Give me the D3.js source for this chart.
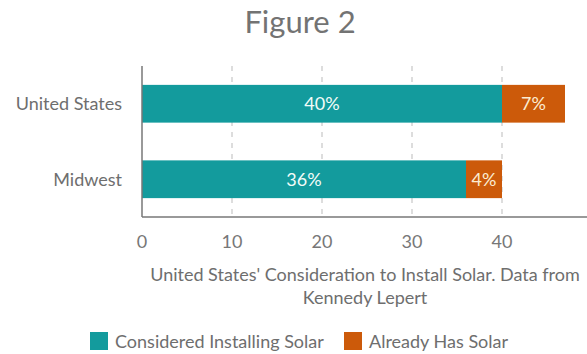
<!DOCTYPE html>
<html>
<head>
<meta charset="utf-8">
<script src="https://cdn.jsdelivr.net/npm/d3@7"></script>
<style>
  body { margin: 0; background: #fff; }
  svg { font-family: Lato, "Open Sans", sans-serif; }
</style>
</head>
<body>
<svg id="chart" width="587" height="354"></svg>
<script>
// datos
const categories = ["United States", "Midwest"];
const considered = [40, 36];
const already = [7, 4];
const seriesNames = ["Considered Installing Solar", "Already Has Solar"];
const tickValues = [0, 10, 20, 30, 40];

const colors = ["#139b9d", "#cc5a0a"];

const svg = d3.select("#chart");
const margin = { left: 142, top: 66, bottom: 217 };

const x = d3.scaleLinear().domain([0, 40]).range([margin.left, 502]);
const y = d3.scaleBand().domain(categories).range([margin.top, margin.bottom])
    .paddingInner(0.5).paddingOuter(0.25);

// titulo
svg.append("text")
    .attr("x", 300).attr("y", 33)
    .attr("text-anchor", "middle")
    .style("font-size", "31px")
    .style("fill", "#737373")
    .text("Figure 2");

// lineas de la grilla
svg.append("g").selectAll("line")
    .data(tickValues.slice(1))
    .enter().append("line")
    .attr("x1", d => x(d)).attr("x2", d => x(d))
    .attr("y1", margin.top).attr("y2", margin.bottom)
    .style("stroke", "#bbb")
    .style("stroke-dasharray", "5,6");

// barras
const rows = categories.map((c, i) => ({ cat: c, a: considered[i], b: already[i] }));

const g = svg.append("g");
g.selectAll("rect.a").data(rows).enter().append("rect")
    .attr("x", x(0))
    .attr("y", d => y(d.cat))
    .attr("width", d => x(d.a) - x(0))
    .attr("height", y.bandwidth())
    .style("fill", colors[0]);

g.selectAll("rect.b").data(rows).enter().append("rect")
    .attr("x", d => x(d.a))
    .attr("y", d => y(d.cat))
    .attr("width", d => x(d.a + d.b) - x(d.a))
    .attr("height", y.bandwidth())
    .style("fill", colors[1]);

// etiquetas de valor
g.selectAll("text.a").data(rows).enter().append("text")
    .attr("x", d => (x(0) + x(d.a)) / 2)
    .attr("y", d => y(d.cat) + y.bandwidth() / 2)
    .attr("dy", ".35em")
    .attr("text-anchor", "middle")
    .style("font-size", "18px")
    .style("fill", "#f2fbf8")
    .text(d => d.a + "%");

g.selectAll("text.b").data(rows).enter().append("text")
    .attr("x", d => (x(d.a) + x(d.a + d.b)) / 2)
    .attr("y", d => y(d.cat) + y.bandwidth() / 2)
    .attr("dy", ".35em")
    .attr("text-anchor", "middle")
    .style("font-size", "18px")
    .style("fill", "#fbecd2")
    .text(d => d.b + "%");

// ejes
svg.append("line")
    .attr("x1", x(0)).attr("x2", x(0))
    .attr("y1", margin.top).attr("y2", margin.bottom)
    .style("stroke", "#777").style("stroke-width", 1.5);
svg.append("line")
    .attr("x1", x(0)).attr("x2", 587)
    .attr("y1", margin.bottom).attr("y2", margin.bottom)
    .style("stroke", "#777").style("stroke-width", 1.5);

svg.append("g").selectAll("text")
    .data(tickValues)
    .enter().append("text")
    .attr("x", d => x(d))
    .attr("y", 242)
    .attr("dy", ".35em")
    .attr("text-anchor", "middle")
    .style("font-size", "18px")
    .style("fill", "#777")
    .text(d => d);

svg.append("g").selectAll("text")
    .data(categories)
    .enter().append("text")
    .attr("x", 122)
    .attr("y", d => y(d) + y.bandwidth() / 2)
    .attr("dy", ".35em")
    .attr("text-anchor", "end")
    .style("font-size", "18px")
    .style("fill", "#6e6e6e")
    .text(d => d);

// titulo del eje
const cap = svg.append("text")
    .attr("text-anchor", "middle")
    .style("font-size", "18px")
    .style("fill", "#6e6e6e");
cap.append("tspan").attr("x", 365).attr("y", 281)
    .text("United States' Consideration to Install Solar. Data from");
cap.append("tspan").attr("x", 365).attr("y", 304)
    .text("Kennedy Lepert");

// leyenda
const legendX = [90, 344];
const legend = svg.append("g").selectAll("g")
    .data(seriesNames)
    .enter().append("g")
    .attr("transform", (d, i) => `translate(${legendX[i]},332)`);
legend.append("rect")
    .attr("width", 18).attr("height", 18)
    .style("fill", (d, i) => colors[i]);
legend.append("text")
    .attr("x", 25).attr("y", 10)
    .attr("dy", ".35em")
    .style("font-size", "18px")
    .style("fill", "#6e6e6e")
    .text(d => d);
</script>
</body>
</html>
